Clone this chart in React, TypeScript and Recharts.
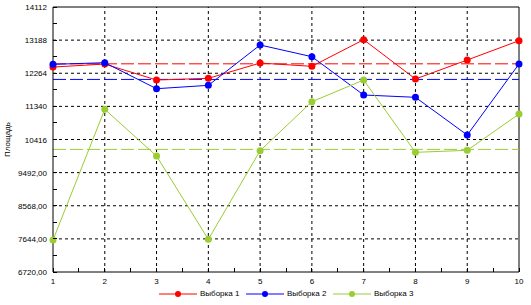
import React from "react"
import { LineChart, Line, XAxis, YAxis, ReferenceLine, Legend } from "recharts"

const samples = [1, 2, 3, 4, 5, 6, 7, 8, 9, 10]
const sample1 = [12437, 12521, 12075, 12122, 12549, 12457, 13200, 12103, 12633, 13172]
const sample2 = [12513, 12558, 11833, 11927, 13052, 12726, 11657, 11593, 10541, 12522]
const sample3 = [7611, 11258, 9955, 7631, 10103, 11470, 12075, 10058, 10114, 11127]

const xAxisTicks = [1, 1.5, 2, 2.5, 3, 3.5, 4, 4.5, 5, 5.5, 6, 6.5, 7, 7.5, 8, 8.5, 9, 9.5, 10]
const yMajor = [6720, 7644, 8568, 9492, 10416, 11340, 12264, 13188, 14112]
const yLabels = ["6720,00", "7644,00", "8568,00", "9492,00", "10416", "11340", "12264", "13188", "14112"]
const yAxisTicks = [6720, 7182, 7644, 8106, 8568, 9030, 9492, 9954, 10416, 10878, 11340, 11802, 12264, 12726, 13188, 13650, 14112]

const seriesNames = ["Выборка 1", "Выборка 2", "Выборка 3"]
const colors = ["#ff0000", "#0000ff", "#9acd32"]

const data = samples.map((n, i) => ({ n, s1: sample1[i], s2: sample2[i], s3: sample3[i] }))
const avg = (arr: number[]) => arr.reduce((a, b) => a + b, 0) / arr.length
const means = [avg(sample1), avg(sample2), avg(sample3)]

const font = "'Liberation Sans', Arial, sans-serif"

function XTick(props: any) {
    const { x, y, payload } = props
    const v = payload.value
    return (
        <g>
            <line x1={x} y1={y} x2={x} y2={y - 4} stroke="#000" shapeRendering="crispEdges" />
            {Number.isInteger(v) && (
                <text x={x} y={y + 12} textAnchor="middle" fontSize={8} fontFamily={font} fill="#000">
                    {v}
                </text>
            )}
        </g>
    )
}

function YTick(props: any) {
    const { x, y, payload } = props
    const idx = yMajor.indexOf(payload.value)
    return (
        <g>
            <line x1={x} y1={y} x2={x + 4} y2={y} stroke="#000" shapeRendering="crispEdges" />
            {idx >= 0 && (
                <text x={x - 6} y={y + 3} textAnchor="end" fontSize={8} fontFamily={font} fill="#000">
                    {yLabels[idx]}
                </text>
            )}
        </g>
    )
}

function LegendContent() {
    return (
        <div style={{ display: "flex", height: 17, paddingLeft: 159, fontFamily: font, fontSize: 8, color: "#000" }}>
            {seriesNames.map((name, i) => (
                <div key={name} style={{ display: "flex", alignItems: "center", width: 87, height: 11 }}>
                    <svg width={38} height={8} style={{ display: "block" }}>
                        <line x1={0} y1={4} x2={38} y2={4} stroke={colors[i]} strokeWidth={1} />
                        <circle cx={19} cy={4} r={3} fill={colors[i]} />
                    </svg>
                    <span style={{ marginLeft: 3, lineHeight: "8px" }}>{name}</span>
                </div>
            ))}
        </div>
    )
}

export default function App() {
    const keys = ["s1", "s2", "s3"]
    return (
        <div style={{ position: "absolute", left: 0, top: 0, width: 531, height: 305, background: "#fff" }}>
            <LineChart width={531} height={305} data={data} margin={{ top: 7, right: 12, left: 0, bottom: 0 }}>
                <XAxis
                    dataKey="n"
                    type="number"
                    domain={[1, 10]}
                    ticks={xAxisTicks}
                    interval={0}
                    tickSize={0}
                    tickMargin={0}
                    tickLine={false}
                    tick={<XTick />}
                    height={16}
                    axisLine={{ stroke: "#000" }}
                />
                <YAxis
                    type="number"
                    domain={[6720, 14112]}
                    ticks={yAxisTicks}
                    interval={0}
                    tickSize={0}
                    tickMargin={0}
                    tickLine={false}
                    tick={<YTick />}
                    width={53}
                    axisLine={{ stroke: "#000" }}
                    label={{
                        content: (p: any) => {
                            const vb = p.viewBox
                            const cx = vb.x + 8
                            const cy = vb.y + vb.height / 2
                            return (
                                <text x={cx} y={cy} transform={`rotate(-90 ${cx} ${cy})`} textAnchor="middle" dominantBaseline="middle" fontSize={8} fontFamily={font} fill="#000">
                                    Площадь
                                </text>
                            )
                        },
                    }}
                />
                {samples.slice(1, -1).map((v) => (
                    <ReferenceLine key={"gx" + v} x={v} stroke="#000" strokeDasharray="3 3" />
                ))}
                {yMajor.slice(1, -1).map((v) => (
                    <ReferenceLine key={"gy" + v} y={v} stroke="#000" strokeDasharray="3 3" />
                ))}
                <ReferenceLine x={10} stroke="#000" />
                <ReferenceLine y={14112} stroke="#000" />
                {means.map((m, i) => (
                    <ReferenceLine key={"m" + i} y={m} stroke={colors[i]} strokeDasharray="13 4" />
                ))}
                {keys.map((k, i) => (
                    <Line
                        key={k}
                        dataKey={k}
                        name={seriesNames[i]}
                        type="linear"
                        stroke={colors[i]}
                        strokeWidth={1}
                        dot={{ r: 3.5, fill: colors[i], stroke: colors[i], strokeWidth: 0 }}
                        activeDot={false}
                        isAnimationActive={false}
                    />
                ))}
                <Legend verticalAlign="bottom" content={<LegendContent />} wrapperStyle={{ left: 0, width: 531 }} />
            </LineChart>
        </div>
    )
}
